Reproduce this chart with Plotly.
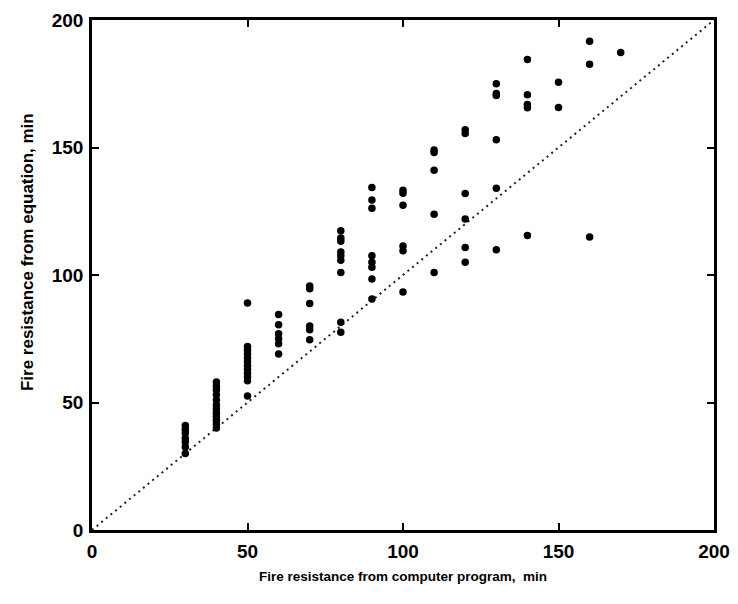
import plotly.graph_objects as go

# Fire resistance from computer program (min) and from equation (min)
prog_30 = [30] * 7
eq_30 = [41, 39.5, 38, 36, 34.5, 32.5, 30]
prog_40 = [40] * 12
eq_40 = [58, 56.5, 55, 53, 51, 49, 47.5, 46, 44.5, 43, 41.5, 40]
prog_50 = [50] * 12
eq_50 = [89, 72, 70.5, 69, 67.5, 66, 64.5, 63, 61.5, 60, 58.5, 52.5]
prog_60 = [60] * 6
eq_60 = [84.5, 80.5, 77, 75, 73, 69]
prog_70 = [70] * 6
eq_70 = [95.7, 94.6, 88.8, 80, 78.5, 74.6]
prog_80 = [80] * 9
eq_80 = [117.4, 114.5, 113.2, 109, 107.5, 105.8, 101, 81.5, 77.5]
prog_90 = [90] * 8
eq_90 = [134.3, 129.4, 126.2, 107.5, 105, 103, 98.4, 90.6]
prog_100 = [100] * 6
eq_100 = [133.2, 132.1, 127.4, 111.4, 109.5, 93.3]
prog_110 = [110] * 5
eq_110 = [149, 148, 141.1, 123.8, 101]
prog_120 = [120] * 6
eq_120 = [157, 155.5, 132, 122, 110.8, 105]
prog_130 = [130] * 6
eq_130 = [175, 171.2, 170.4, 153, 134, 109.9]
prog_140 = [140] * 5
eq_140 = [184.5, 170.7, 166.9, 165.6, 115.5]
prog_150 = [150] * 2
eq_150 = [175.6, 165.7]
prog_160 = [160] * 3
eq_160 = [191.7, 182.6, 114.9]
prog_170 = [170]
eq_170 = [187.3]

program_x = (prog_30 + prog_40 + prog_50 + prog_60 + prog_70 + prog_80 + prog_90
             + prog_100 + prog_110 + prog_120 + prog_130 + prog_140 + prog_150
             + prog_160 + prog_170)
equation_y = (eq_30 + eq_40 + eq_50 + eq_60 + eq_70 + eq_80 + eq_90
              + eq_100 + eq_110 + eq_120 + eq_130 + eq_140 + eq_150
              + eq_160 + eq_170)

diag_x = [0, 200]
diag_y = [0, 200]
tick_vals = [0, 50, 100, 150, 200]
tick_text = ["0", "50", "100", "150", "200"]
x_title = "Fire resistance from computer program,  min"
y_title = "Fire resistance from equation, min"

fig = go.Figure()
fig.add_trace(go.Scatter(x=diag_x, y=diag_y, mode="lines",
                         line=dict(color="#222", width=2, dash="2px,4px"),
                         showlegend=False, hoverinfo="skip"))
fig.add_trace(go.Scatter(x=program_x, y=equation_y, mode="markers",
                         marker=dict(color="black", size=7.5),
                         showlegend=False))

font_family = "Liberation Sans, Arial, Helvetica, sans-serif"
axis_common = dict(range=[0, 200], tickvals=tick_vals, ticktext=tick_text,
                   ticks="inside", ticklen=7, tickwidth=2, tickcolor="black",
                   showline=True, linecolor="black", linewidth=2.5, mirror="ticks",
                   showgrid=False, zeroline=False, automargin=False,
                   tickfont=dict(family=font_family, size=19, color="black",
                                 weight="bold"))

fig.update_layout(
    width=738, height=604,
    margin=dict(l=84, r=32, t=12, b=82, autoexpand=False),
    paper_bgcolor="white", plot_bgcolor="white",
    xaxis=dict(**axis_common, ticklabelstandoff=2),
    yaxis=dict(**axis_common, ticklabelstandoff=2),
    annotations=[
        dict(text=x_title, xref="paper", yref="paper", x=0.5, y=-0.092,
             xanchor="center", yanchor="middle", showarrow=False,
             font=dict(family=font_family, size=13.5, color="black", weight="bold")),
        dict(text=y_title, xref="paper", yref="paper", x=-0.1045, y=0.545,
             xanchor="center", yanchor="middle", showarrow=False, textangle=-90,
             font=dict(family=font_family, size=17, color="black", weight="bold")),
    ],
)

fig.write_html("out.html")
